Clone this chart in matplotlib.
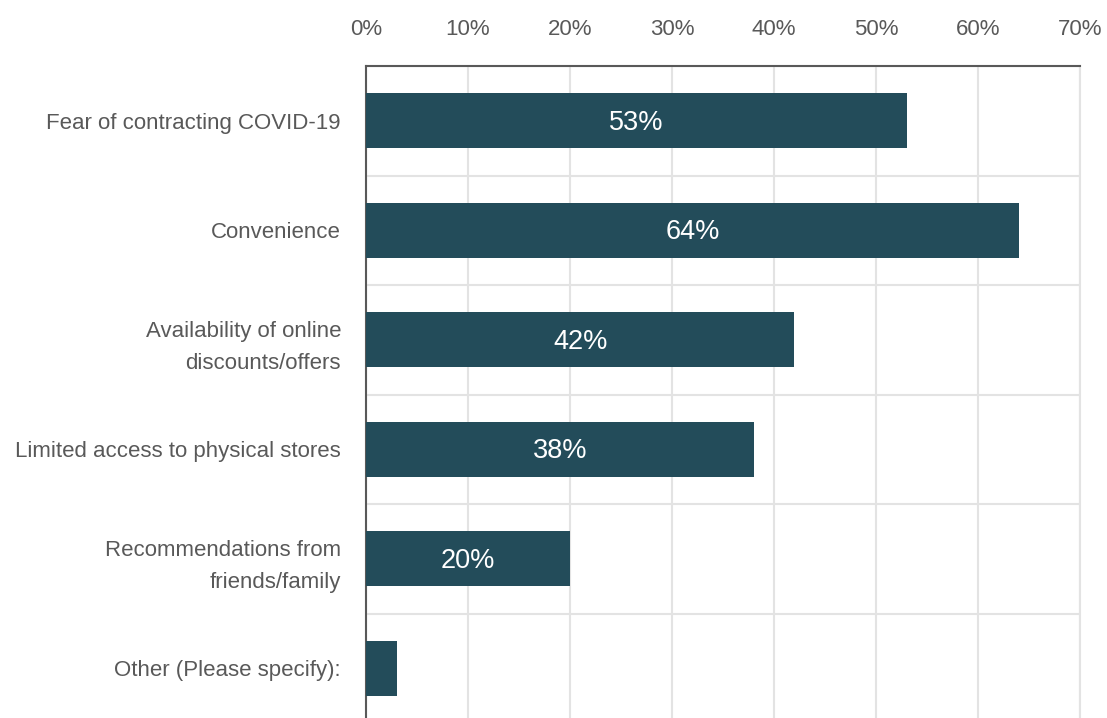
import matplotlib.pyplot as plt
import numpy as np

reasons = ['Fear of contracting COVID-19', 'Convenience',
           'Availability of online\ndiscounts/offers',
           'Limited access to physical stores',
           'Recommendations from\nfriends/family', 'Other (Please specify):']
shares = [53, 64, 42, 38, 20, 3]
shown = [True, True, True, True, True, False]
ticks = [0, 10, 20, 30, 40, 50, 60, 70]

plt.rcParams['font.family'] = ['Liberation Sans']

fig = plt.figure(figsize=(11.07, 7.18), dpi=100)
W, H = 1107, 718
left, right, top, bottom = 366, 1080, 66, 723
ax = fig.add_axes([left / W, (H - bottom) / H, (right - left) / W, (bottom - top) / H])

y = np.arange(len(reasons))
bars = ax.barh(y, shares, height=0.5, color='#234c5a', zorder=3)

for b, v, s in zip(bars, shares, shown):
    if s:
        ax.text(b.get_width() / 2, b.get_y() + b.get_height() / 2 + 0.02, f'{v}%',
                ha='center', va='center', color='white', fontsize=19.5, zorder=4)

ax.set_xlim(0, 70)
ax.set_ylim(len(reasons) - 0.5, -0.5)
ax.xaxis.tick_top()
ax.set_xticks(ticks)
ax.set_xticklabels([f'{t}%' for t in ticks])
ax.set_yticks(y)
ax.set_yticklabels(reasons, linespacing=1.65)
ax.tick_params(axis='x', length=0, pad=19, labelsize=16, labelcolor='#595959')
ax.tick_params(axis='y', length=0, pad=18, labelsize=16, labelcolor='#595959')

# category separators + vertical grid
ax.set_yticks(np.arange(len(reasons) + 1) - 0.5, minor=True)
ax.grid(axis='x', color='#e3e3e3', linewidth=1.5, zorder=0)
ax.grid(axis='y', which='minor', color='#e3e3e3', linewidth=1.5, zorder=0)
ax.grid(axis='y', which='major', visible=False)
ax.tick_params(axis='y', which='minor', length=0)

for s in ['left', 'top']:
    ax.spines[s].set_color('#595959')
    ax.spines[s].set_linewidth(1.5)
ax.spines['right'].set_color('#e3e3e3')
ax.spines['right'].set_linewidth(1.5)
ax.spines['bottom'].set_visible(False)

fig.savefig('out.png', dpi=100)
